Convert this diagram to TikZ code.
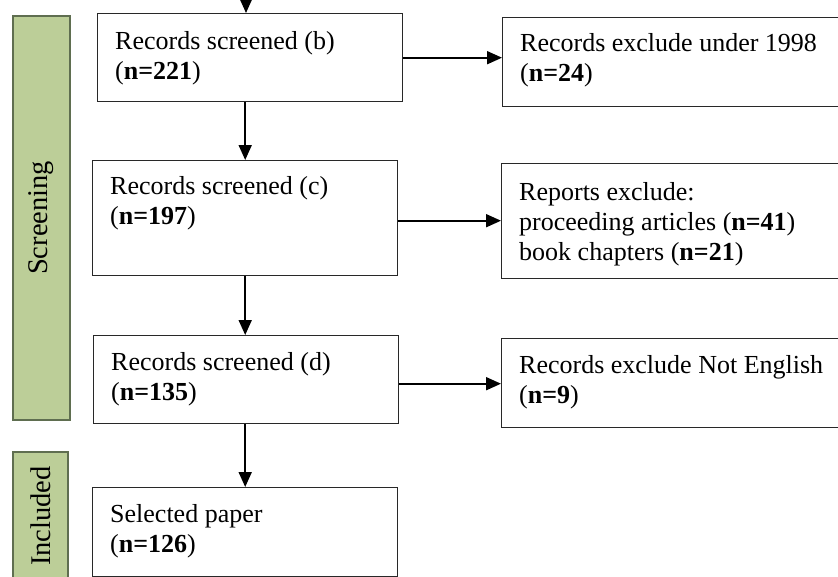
\documentclass[tikz,border=0pt]{standalone}
\usepackage{fontspec}
\setmainfont{Liberation Serif}
\usetikzlibrary{arrows.meta,calc}
\definecolor{barfill}{RGB}{188,206,152}
\definecolor{barline}{RGB}{95,110,80}
\definecolor{boxline}{RGB}{40,40,40}
\tikzset{
  box/.style={draw=boxline, line width=1.4pt, fill=white, inner sep=0pt, anchor=north west},
  txt/.style={inner sep=0pt, anchor=north west, align=left, font=\fontsize{26}{30}\selectfont},
  bar/.style={draw=barline, line width=1.2pt, fill=barfill, rotate=90, inner sep=0pt, font=\fontsize{28.5}{30}\selectfont},
  arr/.style={line width=1.8pt, -{Triangle[length=15pt,width=13pt]}}
}
\begin{document}
\begin{tikzpicture}[x=1pt,y=-1pt]
\useasboundingbox (0,0) rectangle (838,576);
% side bars
\node[bar, minimum width=404pt, minimum height=57pt] (scr) at (41.5,218) {Screening};
\node[bar, minimum width=128pt, minimum height=55pt] (inc) at (40.5,516) {Included};
% main boxes
\node[box, minimum width=305pt, minimum height=88pt] (b) at (97,13) {};
\node[box, minimum width=305pt, minimum height=115pt] (c) at (92,160) {};
\node[box, minimum width=305pt, minimum height=88pt] (d) at (93,335) {};
\node[box, minimum width=305pt, minimum height=89pt] (e) at (92,487) {};
% right boxes
\node[box, minimum width=360pt, minimum height=89pt] (r1) at (502,17) {};
\node[box, minimum width=360pt, minimum height=115pt] (r2) at (501,163) {};
\node[box, minimum width=360pt, minimum height=89pt] (r3) at (501,338) {};
% texts
\node[txt] (bt) at ([xshift=18pt,yshift=-18pt]b.north west) {Records screened (b)\\(\textbf{n=221})};
\node[txt] (ct) at ([xshift=18pt,yshift=-16pt]c.north west) {Records screened (c)\\(\textbf{n=197})};
\node[txt] (dt) at ([xshift=18pt,yshift=-17pt]d.north west) {Records screened (d)\\(\textbf{n=135})};
\node[txt] (et) at ([xshift=18pt,yshift=-17pt]e.north west) {Selected paper\\(\textbf{n=126})};
\node[txt] (r1t) at ([xshift=18pt,yshift=-16pt]r1.north west) {Records exclude under 1998\\(\textbf{n=24})};
\node[txt] (r2t) at ([xshift=18pt,yshift=-19pt]r2.north west) {Reports exclude:\\proceeding articles (\textbf{n=41})\\book chapters (\textbf{n=21})};
\node[txt] (r3t) at ([xshift=18pt,yshift=-17pt]r3.north west) {Records exclude Not English\\(\textbf{n=9})};
% arrows
\coordinate (top) at (246,-6);
\coordinate (cy) at ($(c.east)+(0,2.5)$);
\coordinate (dy) at ($(d.east)+(0,4)$);
\draw[arr] (top) -- (top |- b.north);
\draw[arr] (c.north |- b.south) -- (c.north);
\draw[arr] (c.south) -- (d.north -| c.south);
\draw[arr] (d.south -| e.north) -- (e.north);
\draw[arr] (b.east) -- (b.east -| r1.west);
\draw[arr] (cy) -- (cy -| r2.west);
\draw[arr] (dy) -- (dy -| r3.west);
\end{tikzpicture}
\end{document}
